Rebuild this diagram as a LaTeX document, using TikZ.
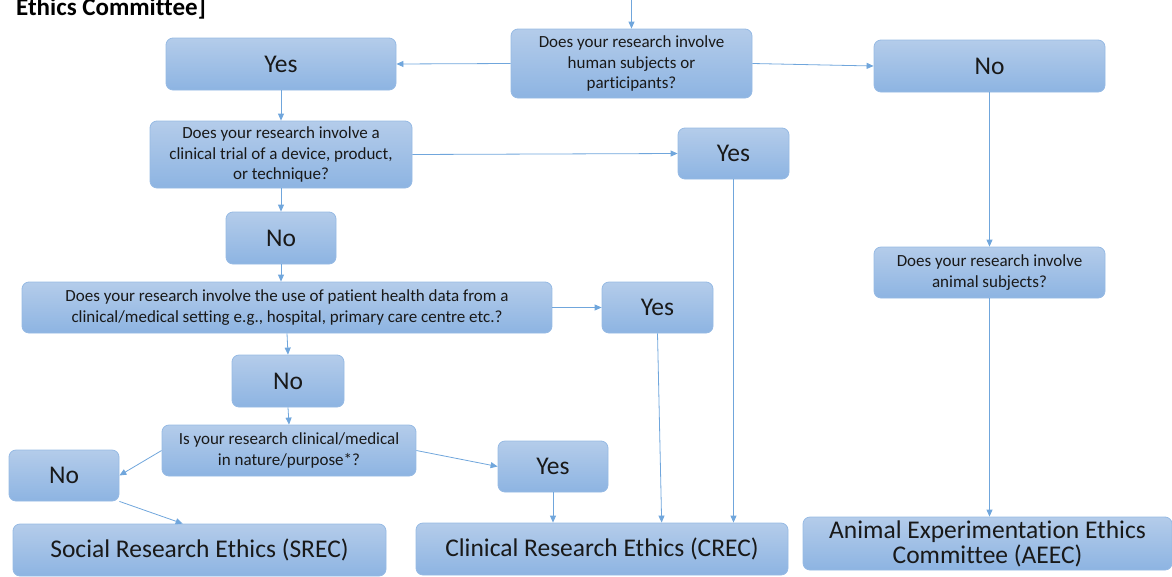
\documentclass[tikz,border=0pt]{standalone}
\usepackage{fontspec}
\setmainfont{Carlito}[Ligatures=NoCommon]
\usepackage{tikz}
\usetikzlibrary{positioning, arrows.meta, calc}
\definecolor{BoxTop}{RGB}{180,204,234}
\definecolor{BoxBottom}{RGB}{141,180,226}
\definecolor{BoxLine}{RGB}{150,186,228}
\definecolor{LinkColor}{RGB}{112,166,220}
\newcommand{\askfont}{\fontsize{17}{20.5}\selectfont}
\newcommand{\answerfont}{\fontsize{25.5}{25}\selectfont}

\begin{document}
\begin{tikzpicture}[x=1pt, y=-1pt,
    askbox/.style={draw=BoxLine, line width=0.8pt, top color=BoxTop, bottom color=BoxBottom,
      rounded corners=7pt, align=center, inner sep=0pt, text=black!90, font=\askfont},
    answerbox/.style={askbox, font=\answerfont},
    link/.style={draw=LinkColor, line width=0.8pt, -{Triangle[length=7pt, width=6pt]}}]
  \useasboundingbox (0,0) rectangle (1172,576);

  % heading cut at the top
  \node[anchor=base west, inner sep=0pt, font=\fontsize{25}{28}\selectfont\bfseries] (heading) at (16,15.5) {Ethics Committee]};

  % questions
  \node[askbox, minimum width=241pt, minimum height=69pt] (human) at (631.5,63.5) {Does your research involve\\human subjects or\\participants?};
  \node[askbox, minimum width=262pt, minimum height=67pt] (trial) at (281,154.5) {Does your research involve a\\clinical trial of a device, product,\\or technique?};
  \node[askbox, minimum width=530pt, minimum height=51pt] (healthdata) at (287,307.5) {Does your research involve the use of patient health data from a\\clinical/medical setting e.g., hospital, primary care centre etc.?};
  \node[askbox, minimum width=254pt, minimum height=51pt] (nature) at (289,450.5) {Is your research clinical/medical\\in nature/purpose*?};
  \node[askbox, minimum width=231pt, minimum height=51pt] (animal) at (989.5,272.5) {Does your research involve\\animal subjects?};

  % answers
  \node[answerbox, minimum width=230pt, minimum height=52pt] (yesA) at (281,64) {Yes};
  \node[answerbox, minimum width=231pt, minimum height=52pt] (noA) at (989.5,66) {No};
  \node[answerbox, minimum width=111pt, minimum height=51pt] (yesB) at (733.5,153.5) {Yes};
  \node[answerbox, minimum width=110pt, minimum height=52pt] (noB) at (281,238) {No};
  \node[answerbox, minimum width=111pt, minimum height=51pt] (yesC) at (657.5,307.5) {Yes};
  \node[answerbox, minimum width=112pt, minimum height=52pt] (noC) at (288,381) {No};
  \node[answerbox, minimum width=110pt, minimum height=51pt] (noD) at (64,475.5) {No};
  \node[answerbox, minimum width=110pt, minimum height=51pt] (yesD) at (553,466.5) {Yes};

  % committees
  \node[answerbox, minimum width=373pt, minimum height=52pt] (srec) at (199.5,550) {Social Research Ethics (SREC)};
  \node[answerbox, minimum width=372pt, minimum height=52pt] (crec) at (602,549) {Clinical Research Ethics (CREC)};
  \node[answerbox, minimum width=369pt, minimum height=53pt] (aeec) at (987.5,543.5) {Animal Experimentation Ethics\\Committee (AEEC)};

  % connectors
  \coordinate (entry) at (631.5,0);
  \draw[link] (entry) -- (human.north);
  \draw[link] (human.west) -- (yesA.east);
  \draw[link] (human.east) -- (noA.west);
  \draw[link] (yesA.south) -- (trial.north);
  \draw[link] (trial.east) -- (yesB.west);
  \draw[link] (trial.south) -- (noB.north);
  \draw[link] (noB.south) -- (noB.south |- healthdata.north);
  \draw[link] (healthdata.east) -- (yesC.west);
  \draw[link] (healthdata.south) -- (noC.north);
  \draw[link] (noC.south) -- (nature.north);
  \draw[link] (nature.west) -- (noD.east);
  \draw[link] (nature.east) -- (yesD.west);
  \draw[link] (noD.south east) -- ($(srec.north west)!0.455!(srec.north east)$);
  \draw[link] (yesD.south) -- (yesD.south |- crec.north);
  \draw[link] (yesC.south) -- ($(crec.north west)!0.66!(crec.north east)$);
  \draw[link] (yesB.south) -- (yesB.south |- crec.north);
  \draw[link] (noA.south) -- (animal.north);
  \draw[link] (animal.south) -- (animal.south |- aeec.north);
\end{tikzpicture}
\end{document}
